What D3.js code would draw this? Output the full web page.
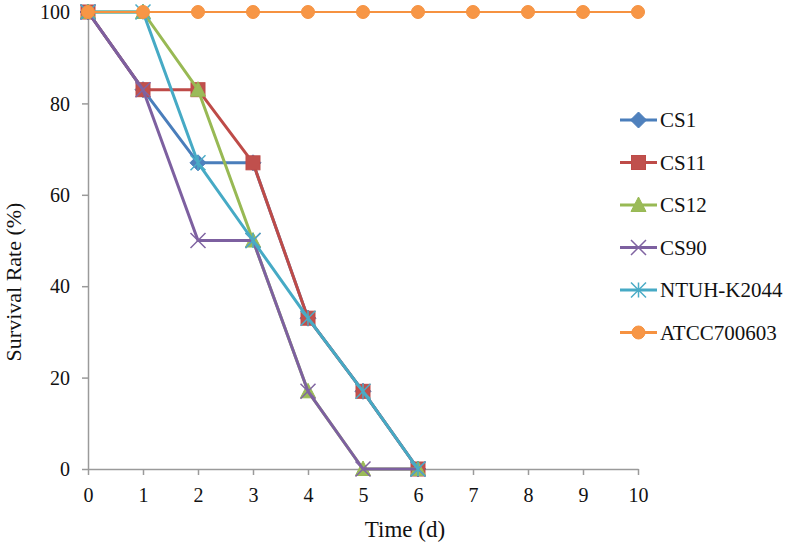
<!DOCTYPE html>
<html>
<head>
<meta charset="utf-8">
<script src="https://cdn.jsdelivr.net/npm/d3@7"></script>
<style>
  html, body { margin: 0; padding: 0; background: #fff; }
  svg { display: block; font-family: "Liberation Serif", "Times New Roman", serif; }
</style>
</head>
<body>
<svg id="chart" width="787" height="546"></svg>
<script>
// ---- data ----
const days = [0, 1, 2, 3, 4, 5, 6, 7, 8, 9, 10];
const seriesNames = ["CS1", "CS11", "CS12", "CS90", "NTUH-K2044", "ATCC700603"];
const cs1 = [100, 83, 67, 67, 33, 17, 0];
const cs11 = [100, 83, 83, 67, 33, 17, 0];
const cs12 = [100, 100, 83, 50, 17, 0, 0];
const cs90 = [100, 83, 50, 50, 17, 0, 0];
const ntuh = [100, 100, 67, 50, 33, 17, 0];
const atcc = [100, 100, 100, 100, 100, 100, 100, 100, 100, 100, 100];
const yTicks = [0, 20, 40, 60, 80, 100];
const xTicks = [0, 1, 2, 3, 4, 5, 6, 7, 8, 9, 10];
const xTitle = "Time (d)";
const yTitle = "Survival Rate (%)";

// ---- styles ----
const styles = [
  { line: "#4a7ebb", fill: "#4f81bd", marker: "diamond", lw: 3 },
  { line: "#be4b48", fill: "#c0504d", marker: "square", lw: 3 },
  { line: "#98b954", fill: "#9bbb59", marker: "triangle", lw: 3 },
  { line: "#7d60a0", fill: "#8064a2", marker: "x", lw: 3 },
  { line: "#46aac5", fill: "#4bacc6", marker: "star", lw: 3 },
  { line: "#f69240", fill: "#f79646", marker: "circle", lw: 2 }
];
const values = [cs1, cs11, cs12, cs90, ntuh, atcc];

const svg = d3.select("#chart");
const pLeft = 88, pRight = 638, pTop = 12, pBottom = 469;
const x = d3.scaleLinear().domain([0, 10]).range([pLeft, pRight]);
const y = d3.scaleLinear().domain([0, 100]).range([pBottom, pTop]);
const axisColor = "#9a9a9a";

// axes
const gy = svg.append("g").attr("transform", `translate(${pLeft},0)`)
  .call(d3.axisLeft(y).tickValues(yTicks).tickSize(6).tickSizeOuter(0).tickPadding(12));
const gx = svg.append("g").attr("transform", `translate(0,${pBottom})`)
  .call(d3.axisBottom(x).tickValues(xTicks).tickSize(6).tickSizeOuter(0).tickPadding(13));
[gx, gy].forEach(g => {
  g.select(".domain").attr("stroke", axisColor).attr("stroke-width", 1.5);
  g.selectAll(".tick line").attr("stroke", axisColor).attr("stroke-width", 1.5);
  g.selectAll(".tick text").attr("fill", "#111").style("font-size", "20px")
    .style("font-family", '"Liberation Serif", "Times New Roman", serif');
});
gy.selectAll(".tick text").attr("dy", "0.33em");

// titles
svg.append("text").attr("x", 405).attr("y", 537).attr("text-anchor", "middle")
  .style("font-size", "23px").attr("fill", "#111").text(xTitle);
svg.append("text").attr("transform", "translate(21,282) rotate(-90)").attr("text-anchor", "middle")
  .style("font-size", "22px").attr("fill", "#111").text(yTitle);

// marker drawing
function drawMarker(g, type, cx, cy, st) {
  const s = 7;
  if (type === "diamond") {
    g.append("path").attr("d", `M${cx},${cy - 8}L${cx + 8},${cy}L${cx},${cy + 8}L${cx - 8},${cy}Z`)
      .attr("fill", st.fill).attr("stroke", st.line).attr("stroke-width", 1);
  } else if (type === "square") {
    g.append("rect").attr("x", cx - s).attr("y", cy - s).attr("width", 2 * s).attr("height", 2 * s)
      .attr("fill", st.fill).attr("stroke", st.line).attr("stroke-width", 1);
  } else if (type === "triangle") {
    g.append("path").attr("d", `M${cx},${cy - 8}L${cx + 7.5},${cy + 6.5}L${cx - 7.5},${cy + 6.5}Z`)
      .attr("fill", st.fill).attr("stroke", st.line).attr("stroke-width", 1);
  } else if (type === "circle") {
    g.append("circle").attr("cx", cx).attr("cy", cy).attr("r", 6.5)
      .attr("fill", st.fill).attr("stroke", st.line).attr("stroke-width", 1);
  } else if (type === "x") {
    const r = 7.5;
    g.append("path").attr("d", `M${cx - r},${cy - r}L${cx + r},${cy + r}M${cx - r},${cy + r}L${cx + r},${cy - r}`)
      .attr("stroke", st.fill).attr("stroke-width", 1.5).attr("fill", "none");
  } else if (type === "star") {
    const r = 7.5;
    g.append("path").attr("d", `M${cx - r},${cy - r}L${cx + r},${cy + r}M${cx - r},${cy + r}L${cx + r},${cy - r}M${cx},${cy - r}L${cx},${cy + r}`)
      .attr("stroke", st.fill).attr("stroke-width", 1.5).attr("fill", "none");
  }
}

// series
const line = d3.line().x((d, i) => x(days[i])).y(d => y(d));
values.forEach((vals, k) => {
  const st = styles[k];
  const g = svg.append("g");
  g.append("path").datum(vals).attr("d", line).attr("fill", "none")
    .attr("stroke", st.line).attr("stroke-width", st.lw).attr("stroke-linejoin", "round");
  vals.forEach((v, i) => drawMarker(g, st.marker, x(days[i]), y(v), st));
});

// legend
const legY0 = 120, legStep = 42.5;
seriesNames.forEach((name, k) => {
  const st = styles[k];
  const ly = legY0 + k * legStep;
  const g = svg.append("g");
  g.append("line").attr("x1", 620).attr("x2", 657).attr("y1", ly).attr("y2", ly)
    .attr("stroke", st.line).attr("stroke-width", 3);
  drawMarker(g, st.marker, 638.5, ly, st);
  g.append("text").attr("x", 660).attr("y", ly + 7).style("font-size", "21px").attr("fill", "#111").text(name);
});
</script>
</body>
</html>
